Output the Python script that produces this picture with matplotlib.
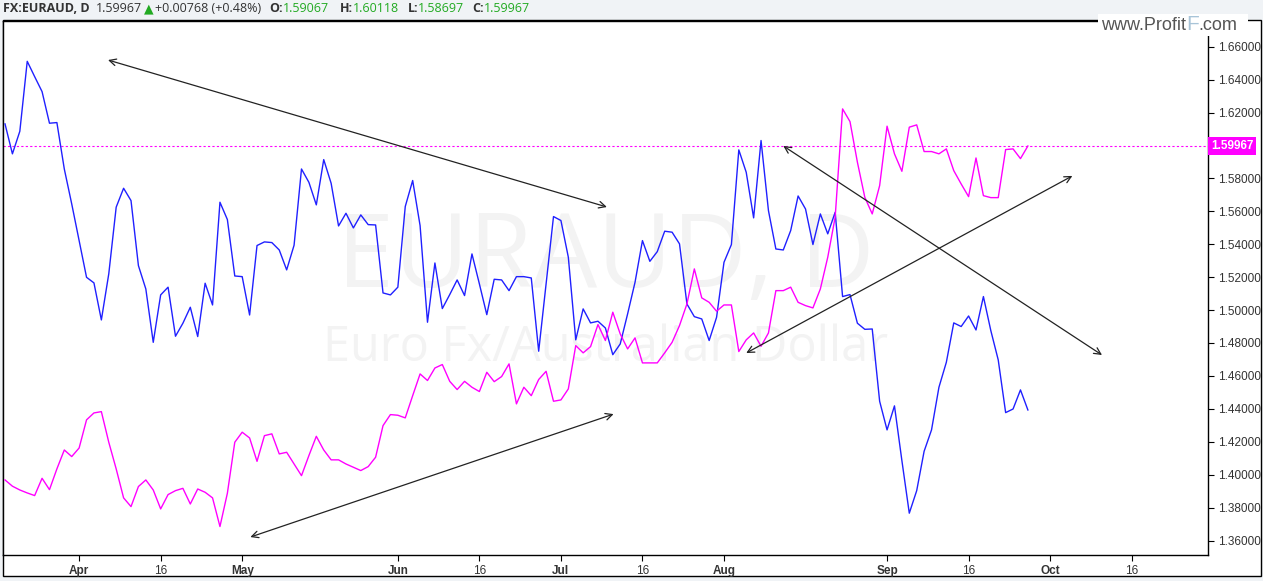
import numpy as np
import pandas as pd
import matplotlib
matplotlib.use('Agg')
import matplotlib.pyplot as plt
from matplotlib.patches import Rectangle
from matplotlib.transforms import blended_transform_factory

# daily bars, first bar 2015-03-18 (weekdays only)
start_date = '2015-03-18'

blue = [1.6131, 1.5949, 1.6086, 1.6511, 1.6418, 1.6327, 1.6135, 1.6139, 1.5857, 1.5645,
        1.5422, 1.5199, 1.5165, 1.4940, 1.5220, 1.5625, 1.5740, 1.5665, 1.5270, 1.5128,
        1.4804, 1.5092, 1.5139, 1.4841, 1.4920, 1.5017, 1.4839, 1.5163, 1.5031, 1.5655,
        1.5550, 1.5207, 1.5203, 1.4970, 1.5392,
        1.5414, 1.5410, 1.5365, 1.5244, 1.5394, 1.5857, 1.5776, 1.5639, 1.5914, 1.5770,
        1.5511, 1.5588, 1.5499, 1.5578, 1.5519, 1.5517, 1.5104, 1.5092, 1.5139, 1.5629,
        1.5787, 1.5513, 1.4926, 1.5286, 1.5009, 1.5094, 1.5183, 1.5088, 1.5341, 1.5159,
        1.4972, 1.5187, 1.5183, 1.5118, 1.5203,
        1.5203, 1.5195, 1.4750, 1.5159, 1.5568, 1.5544, 1.5321, 1.4819, 1.5007, 1.4922,
        1.4932, 1.4891, 1.4729, 1.4794, 1.4977, 1.5169, 1.5422, 1.5296, 1.5355, 1.5479,
        1.5473, 1.5402, 1.5037, 1.4960, 1.4946, 1.4815, 1.4956, 1.5290, 1.5398, 1.5973,
        1.5837, 1.5560, 1.6030, 1.5604,
        1.5371, 1.5365, 1.5483, 1.5693, 1.5614, 1.5398, 1.5584, 1.5463, 1.5594, 1.5082,
        1.5094, 1.4920, 1.4883, 1.4885, 1.4446, 1.4272, 1.4418, 1.4086, 1.3766, 1.3903,
        1.4142, 1.4272, 1.4531, 1.4683, 1.4922, 1.4900, 1.4964, 1.4879, 1.5082, 1.4875,
        1.4697, 1.4377, 1.4399, 1.4515, 1.4393]

euraud = [1.3968, 1.3930, 1.3907, 1.3889, 1.3873, 1.3978, 1.3909, 1.4035, 1.4150, 1.4110,
          1.4162, 1.4333, 1.4375, 1.4383, 1.4197, 1.4035, 1.3859, 1.3806, 1.3928, 1.3968,
          1.3907, 1.3792, 1.3879, 1.3903, 1.3917, 1.3822, 1.3913, 1.3893, 1.3859, 1.3685,
          1.3887, 1.4197, 1.4258, 1.4223, 1.4081,
          1.4237, 1.4248, 1.4126, 1.4136, 1.4065, 1.3994, 1.4116, 1.4233, 1.4150, 1.4090,
          1.4090, 1.4065, 1.4045, 1.4025, 1.4049, 1.4106, 1.4298, 1.4365, 1.4361, 1.4345,
          1.4480, 1.4612, 1.4572, 1.4648, 1.4669, 1.4567, 1.4517, 1.4567, 1.4531, 1.4505,
          1.4622, 1.4565, 1.4596, 1.4673, 1.4430,
          1.4531, 1.4480, 1.4578, 1.4628, 1.4446, 1.4454, 1.4521, 1.4784, 1.4740, 1.4778,
          1.4912, 1.4815, 1.4987, 1.4855, 1.4764, 1.4831, 1.4679, 1.4679, 1.4679, 1.4740,
          1.4804, 1.4906, 1.5037, 1.5250, 1.5074, 1.5047, 1.4993, 1.5031, 1.5031, 1.4748,
          1.4819, 1.4861, 1.4780, 1.4861,
          1.5118, 1.5118, 1.5139, 1.5047, 1.5027, 1.5013, 1.5128, 1.5321, 1.5564, 1.6222,
          1.6145, 1.5898, 1.5685, 1.5584, 1.5756, 1.6117, 1.5949, 1.5843, 1.6111, 1.6125,
          1.5963, 1.5963, 1.5949, 1.5979, 1.5847, 1.5766, 1.5689, 1.5924, 1.5695, 1.5683,
          1.5683, 1.5975, 1.5979, 1.5920, 1.59967]

last_price = 1.59967

y_ticks = [1.36, 1.38, 1.40, 1.42, 1.44, 1.46, 1.48, 1.50, 1.52, 1.54, 1.56, 1.58, 1.60, 1.62, 1.64, 1.66]
x_tick_dates = ['2015-04-01', '2015-04-16', '2015-05-01', '2015-06-01', '2015-06-16', '2015-07-01',
                '2015-07-16', '2015-08-01', '2015-09-01', '2015-09-16', '2015-10-01', '2015-10-16']
x_tick_labels = ['Apr', '16', 'May', 'Jun', '16', 'Jul', '16', 'Aug', 'Sep', '16', 'Oct', '16']

# trend arrows (bar index, price) pairs, double headed
arrows = [((13.9, 1.6519), (81.2, 1.5626)),
          ((33.1, 1.3621), (82.1, 1.4368)),
          ((100.0, 1.4739), (144.0, 1.5815)),
          ((105.0, 1.5997), (148.0, 1.4727))]

header = [('FX:EURAUD, D', '#333333', 'bold', 0),
          ('1.59967', '#333333', 'normal', 6),
          ('\u25b2', '#22aa22', 'normal', 2),
          ('+0.00768 (+0.48%)', '#333333', 'normal', 2),
          ('O:', '#333333', 'bold', 8),
          ('1.59067', '#22aa22', 'normal', 0),
          ('H:', '#333333', 'bold', 11),
          ('1.60118', '#22aa22', 'normal', 0),
          ('L:', '#333333', 'bold', 8),
          ('1.58697', '#22aa22', 'normal', 0),
          ('C:', '#333333', 'bold', 8),
          ('1.59967', '#22aa22', 'normal', 0)]

W, H = 1263, 581
fig = plt.figure(figsize=(W / 100, H / 100), dpi=100, facecolor='#f0f3f6')

def px(x, y):
    return x / W, 1 - y / H

# outer chart box (plot + scales)
fig.patches.append(Rectangle(px(3, 576), 1258 / W, 556 / H, transform=fig.transFigure,
                             facecolor='white', edgecolor='black', lw=1, zorder=-5))

ax = fig.add_axes([3 / W, 1 - 555 / H, 1205 / W, 534 / H])
ax.set_facecolor('white')

n = len(blue)
x = np.arange(n)
all_days = pd.bdate_range(start_date, periods=200)
tick_pos = [np.searchsorted(all_days, pd.Timestamp(d), side='right') - 1 for d in x_tick_dates]

# watermark
ax.text(0.5, 0.552, 'EURAUD, D', transform=ax.transAxes, ha='center', va='center',
        fontsize=74, color='#f3f3f3', family='Open Sans', zorder=0)
ax.text(0.5, 0.387, 'Euro Fx/Australian Dollar', transform=ax.transAxes, ha='center', va='center',
        fontsize=35, color='#f3f3f3', family='Open Sans', zorder=0)

ax.plot(x, blue, color='#2020ff', lw=1.0, zorder=3)
ax.plot(x, euraud, color='#ff00ff', lw=1.0, zorder=3)
ax.axhline(last_price, color='#ff00ff', lw=0.8, ls=(0, (2, 2)), zorder=2)

for (x0, y0), (x1, y1) in arrows:
    ax.annotate('', xy=(x1, y1), xytext=(x0, y0),
                arrowprops=dict(arrowstyle='<->', color='#222222', lw=0.9,
                                mutation_scale=12, shrinkA=0, shrinkB=0), zorder=4)

ax.set_xlim(-0.27, 162.3)
ax.set_ylim(1.3512, 1.6756)

ax.yaxis.tick_right()
ax.set_yticks(y_ticks)
# the 1.60000 label sits under the last-price tag
ax.set_yticklabels(['' if abs(v - 1.60) < 1e-9 else '%.5f' % v for v in y_ticks])
ax.set_xticks(tick_pos)
ax.set_xticklabels(x_tick_labels)
for lab, txt in zip(ax.get_xticklabels(), x_tick_labels):
    if not txt.isdigit():
        lab.set_fontweight('bold')
ax.tick_params(axis='both', length=4, width=0.8, color='black', labelsize=8.5,
               labelcolor='#333333', pad=3)
for lab in ax.get_xticklabels() + ax.get_yticklabels():
    lab.set_family('Liberation Sans')
for s in ax.spines.values():
    s.set_color('black')
    s.set_linewidth(1)

# last price label on the price scale
tr = blended_transform_factory(ax.transAxes, ax.transData)
ax.text(1.0025, last_price, '1.59967', transform=tr, ha='left', va='center', fontsize=8.5,
        color='white', fontweight='bold', family='Liberation Sans', clip_on=False,
        bbox=dict(boxstyle='square,pad=0.25', facecolor='#ff00ff', edgecolor='none'))

# header line
renderer = fig.canvas.get_renderer()
cx = 3
for txt, col, wt, gap in header:
    cx += gap
    t = fig.text(cx / W, 1 - 9 / H, txt, ha='left', va='center', fontsize=9,
                 color=col, fontweight=wt, family=['Open Sans', 'DejaVu Sans'])
    bb = t.get_window_extent(renderer)
    cx += bb.width

# logo
fig.patches.append(Rectangle(px(1098, 36), 150 / W, 22 / H, transform=fig.transFigure,
                             facecolor='white', edgecolor='none', zorder=5))
cx = 1101
for txt, col, sz in [('www.Profit', '#555555', 13), ('F', '#a8c4d8', 15), ('.com', '#555555', 13)]:
    t = fig.text(cx / W, 1 - 25 / H, txt, ha='left', va='center', fontsize=sz, color=col,
                 family='Liberation Sans', zorder=6)
    cx += t.get_window_extent(renderer).width

fig.savefig('out.png', dpi=100, facecolor=fig.get_facecolor())
